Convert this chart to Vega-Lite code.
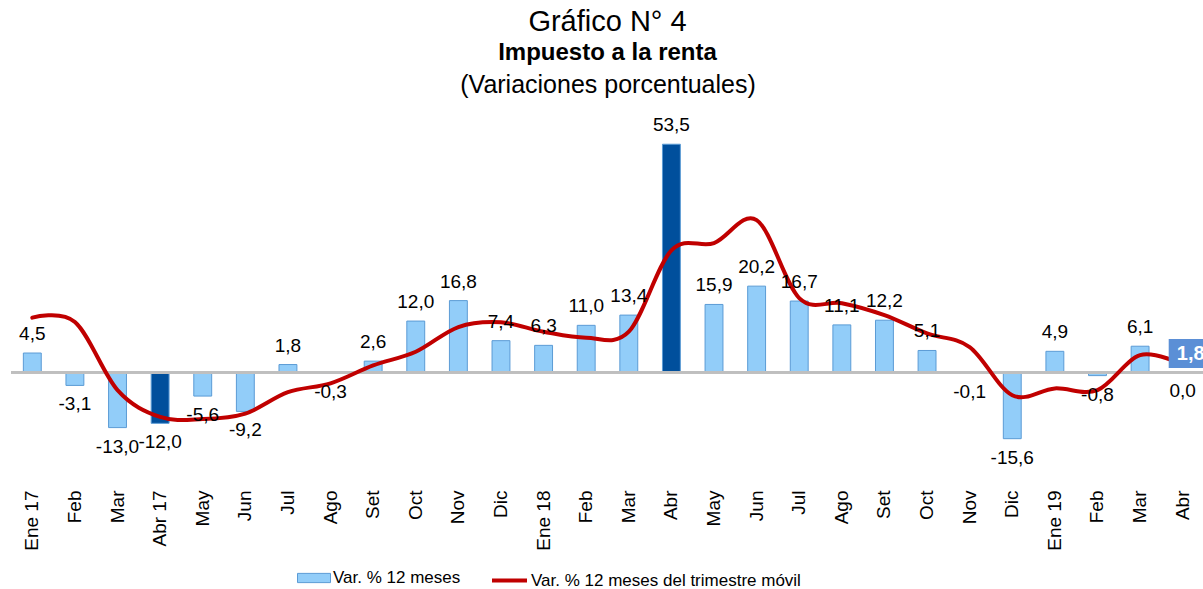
{
  "$schema": "https://vega.github.io/schema/vega-lite/v6.json",
  "width": 1193,
  "height": 375,
  "autosize": {"type": "none"},
  "padding": {"left": 11, "right": 0, "top": 108, "bottom": 106},
  "title": {
    "text": "Gráfico N° 4",
    "subtitle": "Impuesto a la renta",
    "fontSize": 29,
    "fontWeight": "normal",
    "color": "#000000",
    "subtitleFontSize": 24,
    "subtitleFontWeight": "bold",
    "subtitleColor": "#000000",
    "subtitlePadding": 4,
    "anchor": "middle",
    "offset": 7
  },
  "data": {
    "values": [
      {"mes": "Ene 17", "var12": 4.5, "trim": 12.8},
      {"mes": "Feb 17", "var12": -3.1, "trim": 11.8},
      {"mes": "Mar 17", "var12": -13.0, "trim": -4.2},
      {"mes": "Abr 17", "var12": -12.0, "trim": -10.5},
      {"mes": "May 17", "var12": -5.6, "trim": -11.0},
      {"mes": "Jun 17", "var12": -9.2, "trim": -9.7},
      {"mes": "Jul 17", "var12": 1.8, "trim": -4.7},
      {"mes": "Ago 17", "var12": -0.3, "trim": -2.6},
      {"mes": "Set 17", "var12": 2.6, "trim": 1.6},
      {"mes": "Oct 17", "var12": 12.0, "trim": 4.8},
      {"mes": "Nov 17", "var12": 16.8, "trim": 10.6},
      {"mes": "Dic 17", "var12": 7.4, "trim": 11.7},
      {"mes": "Ene 18", "var12": 6.3, "trim": 9.5},
      {"mes": "Feb 18", "var12": 11.0, "trim": 8.1},
      {"mes": "Mar 18", "var12": 13.4, "trim": 9.5},
      {"mes": "Abr 18", "var12": 53.5, "trim": 28.6},
      {"mes": "May 18", "var12": 15.9, "trim": 30.3},
      {"mes": "Jun 18", "var12": 20.2, "trim": 35.7},
      {"mes": "Jul 18", "var12": 16.7, "trim": 17.4},
      {"mes": "Ago 18", "var12": 11.1, "trim": 16.2},
      {"mes": "Set 18", "var12": 12.2, "trim": 13.4},
      {"mes": "Oct 18", "var12": 5.1, "trim": 9.1},
      {"mes": "Nov 18", "var12": -0.1, "trim": 5.9},
      {"mes": "Dic 18", "var12": -15.6, "trim": -5.4},
      {"mes": "Ene 19", "var12": 4.9, "trim": -3.8},
      {"mes": "Feb 19", "var12": -0.8, "trim": -4.2},
      {"mes": "Mar 19", "var12": 6.1, "trim": 4.0},
      {"mes": "Abr 19", "var12": 0.0, "trim": 1.8}
    ]
  },
  "encoding": {
    "x": {
      "field": "mes",
      "type": "ordinal",
      "sort": null,
      "scale": {"type": "band", "paddingInner": 0.58, "paddingOuter": 0.29}
    }
  },
  "layer": [
    {
      "mark": {"type": "bar", "stroke": "#5B9BD5", "strokeWidth": 1},
      "encoding": {
        "x": {
          "field": "mes",
          "type": "ordinal",
          "sort": null,
          "axis": {
            "orient": "bottom",
            "title": null,
            "domain": false,
            "ticks": false,
            "labelAngle": 270,
            "labelPadding": 7,
            "labelFontSize": 19,
            "labelColor": "#000000",
            "labelExpr": "slice(datum.value,0,3)=='Ene' || datum.value=='Abr 17' ? datum.value : slice(datum.value,0,3)"
          }
        },
        "y": {
          "field": "var12",
          "type": "quantitative",
          "scale": {"domain": [-26, 62], "nice": false, "zero": true},
          "axis": null
        },
        "fill": {
          "datum": "Var. % 12 meses",
          "type": "nominal",
          "scale": {"range": ["#92CDF9"]},
          "condition": {"test": "datum.mes=='Abr 17' || datum.mes=='Abr 18'", "value": "#004F9C"},
          "legend": {
            "title": null,
            "orient": "none",
            "legendX": 286,
            "legendY": 453,
            "symbolType": "M-1,-0.28H1V0.28H-1Z",
            "symbolSize": 1089,
            "symbolStrokeColor": "#5B9BD5",
            "symbolStrokeWidth": 1,
            "labelFontSize": 17,
            "labelOffset": 2,
            "labelLimit": 0,
            "labelColor": "#000000"
          }
        }
      }
    },
    {
      "mark": {"type": "rule", "color": "#BFBFBF", "strokeWidth": 2.5},
      "encoding": {"y": {"datum": 0, "type": "quantitative"}, "x": {"value": 0}, "x2": {"value": 1193}}
    },
    {
      "mark": {
        "type": "line",
        "interpolate": "cardinal",
        "tension": 0,
        "strokeWidth": 4,
        "strokeCap": "round"
      },
      "encoding": {
        "x": {
          "field": "mes",
          "type": "ordinal",
          "sort": null,
          "axis": {
            "orient": "top",
            "title": "(Variaciones porcentuales)",
            "titleFontSize": 25,
            "titleFontWeight": "normal",
            "titleColor": "#000000",
            "titlePadding": 11,
            "labels": false,
            "ticks": false,
            "domain": false
          }
        },
        "y": {"field": "trim", "type": "quantitative"},
        "stroke": {
          "datum": "Var. % 12 meses del trimestre móvil",
          "type": "nominal",
          "scale": {"range": ["#C00000"]},
          "legend": {
            "title": null,
            "orient": "none",
            "legendX": 479,
            "legendY": 453,
            "symbolType": "stroke",
            "symbolSize": 1225,
            "symbolStrokeWidth": 4,
            "labelFontSize": 17,
            "labelOffset": 2,
            "labelLimit": 0,
            "labelColor": "#000000"
          }
        }
      }
    },
    {
      "transform": [{"filter": "datum.var12 > 0"}],
      "mark": {"type": "text", "baseline": "bottom", "dy": -9, "fontSize": 19, "color": "#000000"},
      "encoding": {
        "x": {"field": "mes", "type": "ordinal", "sort": null, "axis": null},
        "y": {"field": "var12", "type": "quantitative"},
        "text": {"field": "var12", "type": "quantitative", "format": ".1f"}
      }
    },
    {
      "transform": [{"filter": "datum.var12 <= 0"}],
      "mark": {"type": "text", "baseline": "top", "dy": 10, "fontSize": 19, "color": "#000000"},
      "encoding": {
        "x": {"field": "mes", "type": "ordinal", "sort": null, "axis": null},
        "y": {"field": "var12", "type": "quantitative"},
        "text": {"field": "var12", "type": "quantitative", "format": ".1f"}
      }
    },
    {
      "transform": [{"filter": "datum.mes == 'Abr 19'"}],
      "mark": {
        "type": "point",
        "shape": "M-1,-0.66H1V0.66H-1Z",
        "size": 1936,
        "filled": true,
        "fill": "#5B8FD6",
        "opacity": 1,
        "strokeWidth": 0,
        "xOffset": 8,
        "yOffset": -11
      },
      "encoding": {
        "x": {"field": "mes", "type": "ordinal", "sort": null, "axis": null},
        "y": {"field": "trim", "type": "quantitative"}
      }
    },
    {
      "transform": [{"filter": "datum.mes == 'Abr 19'"}],
      "mark": {
        "type": "text",
        "fontSize": 20,
        "fontWeight": "bold",
        "color": "#FFFFFF",
        "baseline": "middle",
        "xOffset": 8,
        "yOffset": -11
      },
      "encoding": {
        "x": {"field": "mes", "type": "ordinal", "sort": null, "axis": null},
        "y": {"field": "trim", "type": "quantitative"},
        "text": {"field": "trim", "type": "quantitative", "format": ".1f"}
      }
    }
  ],
  "resolve": {"axis": {"x": "independent"}},
  "config": {
    "font": "Liberation Sans",
    "view": {"stroke": null},
    "locale": {
      "number": {"decimal": ",", "thousands": ".", "grouping": [3], "currency": ["", ""], "minus": "-"}
    }
  }
}
